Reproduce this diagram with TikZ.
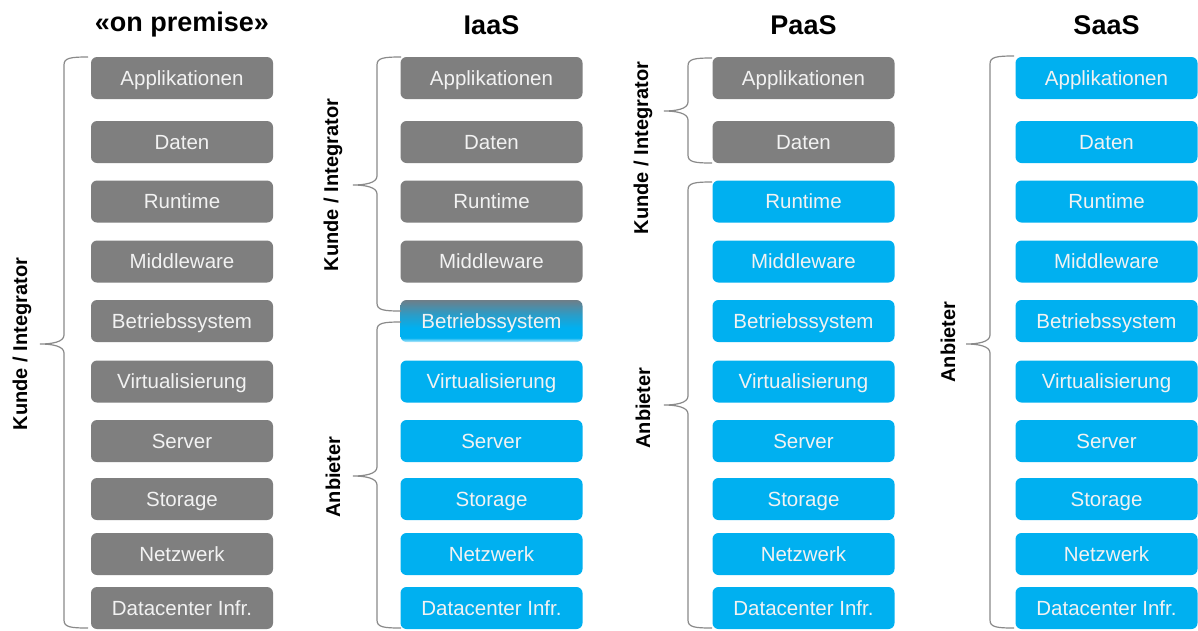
\documentclass[tikz,border=0pt]{standalone}
\usepackage{fontspec}
\setmainfont{Liberation Sans}
\definecolor{graybox}{HTML}{7F7F7F}
\definecolor{bluebox}{HTML}{00B0F0}
\definecolor{boxtext}{HTML}{F2F2F2}
\definecolor{bracketgray}{HTML}{8A8A8A}
\definecolor{ostop}{HTML}{6E7E88}
\colorlet{osmid}{bluebox!60!ostop}
\colorlet{osbottom}{bluebox!25!white}
\pgfdeclareverticalshading{osfade}{100bp}{color(0bp)=(osbottom); color(25bp)=(osbottom); color(30bp)=(bluebox); color(42bp)=(bluebox); color(58bp)=(osmid); color(75bp)=(ostop); color(100bp)=(ostop)}
\newcommand\sidebrace[4]{%
  \draw[bracket] (#1+24,#2) .. controls (#1+6,#2) and (#1,#2+1) .. (#1,#2+8)
    -- (#1,#4-9) .. controls (#1,#4-2) and (#1-12,#4) .. (#1-24,#4)
    .. controls (#1-12,#4) and (#1,#4+2) .. (#1,#4+9)
    -- (#1,#3-8) .. controls (#1,#3-1) and (#1+6,#3) .. (#1+24,#3);}
\begin{document}
\begin{tikzpicture}[x=1pt,y=-1pt,
  layer/.style={rounded corners=6pt, minimum width=182pt, minimum height=42pt,
    inner sep=0pt, text=boxtext, text height=14.7pt, text depth=0pt,
    font=\fontsize{20.5}{24}\selectfont},
  onprem/.style={layer, fill=graybox},
  cloud/.style={layer, fill=bluebox},
  osbox/.style={layer, shade, shading=osfade},
  title/.style={font=\bfseries\fontsize{27}{30}\selectfont, inner sep=0pt},
  side/.style={font=\bfseries\fontsize{20}{24}\selectfont, rotate=90, inner sep=0pt},
  bracket/.style={draw=bracketgray, line width=1.2pt}]
\useasboundingbox (0,0) rectangle (1198,630);
\fill[white] (0,0) rectangle (1198,630);

\node[title] (t1) at (182,25) {«on premise»};
\node[title] (t2) at (491.5,25) {IaaS};
\node[title] (t3) at (803.5,25) {PaaS};
\node[title] (t4) at (1106.5,25) {SaaS};

\foreach \col/\x/\ng/\sp in {a/182/10/0, b/491.5/4/5, c/803.5/2/0, d/1106.5/0/0} {
  \foreach \t/\y [count=\i] in {Applikationen/78, Daten/142, Runtime/201.5,
      Middleware/261.5, Betriebssystem/321, Virtualisierung/381.5, Server/441,
      Storage/499, Netzwerk/554, Datacenter Infr./608} {
    \ifnum\i>\ng \def\sty{cloud}\else\def\sty{onprem}\fi
    \ifnum\i=\sp \def\sty{osbox}\fi
    \node[\sty] (\col\i) at (\x,\y) {\t};
  }
}

\sidebrace{64}{57}{628}{344}
\sidebrace{377}{57}{311}{185}
\sidebrace{377}{322}{628}{476}
\sidebrace{688}{58}{163}{111}
\sidebrace{688}{182}{628}{405}
\sidebrace{990}{56}{628}{344}

\node[side] (s1) at (22,344) {Kunde / Integrator};
\node[side] (s2) at (333,185) {Kunde / Integrator};
\node[side] (s3) at (333,477) {Anbieter};
\node[side] (s4) at (643,148) {Kunde / Integrator};
\node[side] (s5) at (643,408) {Anbieter};
\node[side] (s6) at (948,342) {Anbieter};
\end{tikzpicture}
\end{document}
